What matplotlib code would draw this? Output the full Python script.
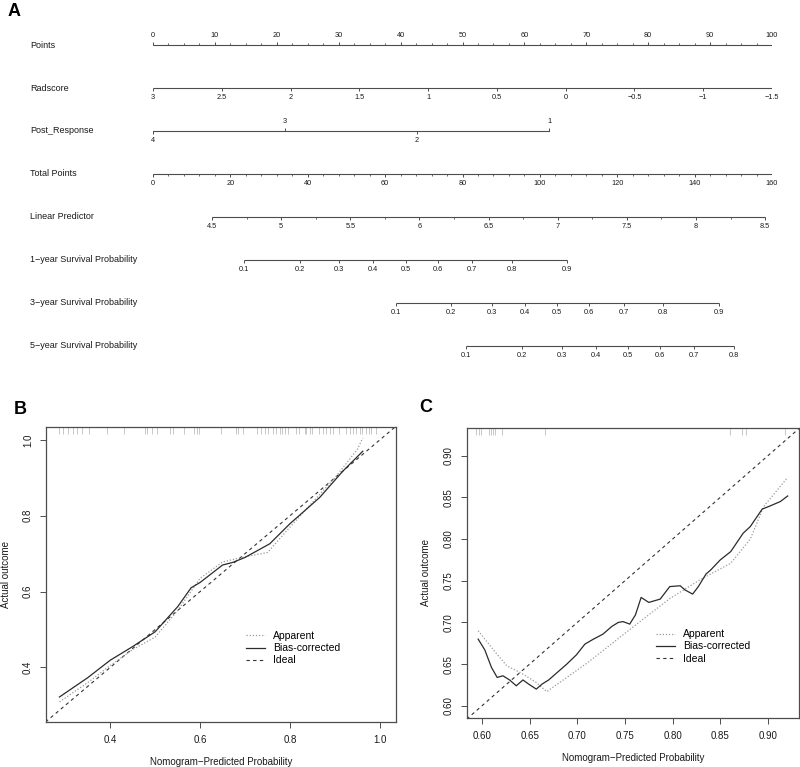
import matplotlib
matplotlib.use('Agg')
import matplotlib.pyplot as plt
import matplotlib.transforms as mtransforms
import numpy as np

plt.rcParams['font.family'] = ['Liberation Sans', 'DejaVu Sans']
MINUS = '\u2212'

# --- nomogram scales (values and where they sit on the 0-100 points axis) ---
points_major = [0, 10, 20, 30, 40, 50, 60, 70, 80, 90, 100]
points_minor_step = 2.5

radscore_vals = [3, 2.5, 2, 1.5, 1, 0.5, 0, -0.5, -1, -1.5]
radscore_points = [(3 - r) / 4.5 * 100 for r in radscore_vals]

post_resp_labels = ['4', '3', '2', '1']
post_resp_points = [0, 21.3, 42.6, 64.0]
post_resp_up = [False, True, False, True]

total_major = [0, 20, 40, 60, 80, 100, 120, 140, 160]
total_minor_step = 4

lp_vals = [4.5, 5, 5.5, 6, 6.5, 7, 7.5, 8, 8.5]
lp_total_at_4_5 = 15.25
lp_total_per_unit = 35.74

surv_1y = [0.1, 0.2, 0.3, 0.4, 0.5, 0.6, 0.7, 0.8, 0.9]
surv_1y_total = [23.5, 38.0, 48.1, 56.9, 65.4, 73.6, 82.4, 92.8, 107.0]
surv_3y = [0.1, 0.2, 0.3, 0.4, 0.5, 0.6, 0.7, 0.8, 0.9]
surv_3y_total = [62.7, 77.0, 87.5, 96.1, 104.4, 112.7, 121.7, 131.8, 146.3]
surv_5y = [0.1, 0.2, 0.3, 0.4, 0.5, 0.6, 0.7, 0.8]
surv_5y_total = [80.9, 95.4, 105.7, 114.5, 122.8, 131.0, 139.8, 150.1]

row_names = ['Points', 'Radscore', 'Post_Response', 'Total Points', 'Linear Predictor',
             '1' + MINUS + 'year Survival Probability', '3' + MINUS + 'year Survival Probability',
             '5' + MINUS + 'year Survival Probability']

# --- calibration curve B ---
b_bias_x = [0.287, 0.35, 0.40, 0.45, 0.50, 0.55, 0.58, 0.60, 0.65, 0.673, 0.70, 0.755, 0.80, 0.866, 0.918, 0.962]
b_bias_y = [0.322, 0.373, 0.419, 0.455, 0.494, 0.56, 0.61, 0.624, 0.67, 0.677, 0.69, 0.726, 0.779, 0.848, 0.918, 0.970]
b_app_x = [0.287, 0.35, 0.40, 0.45, 0.50, 0.55, 0.60, 0.65, 0.70, 0.75, 0.80, 0.85, 0.90, 0.95, 0.962]
b_app_y = [0.309, 0.36, 0.405, 0.447, 0.48, 0.55, 0.635, 0.678, 0.692, 0.703, 0.77, 0.835, 0.90, 0.975, 1.005]
b_rug = [0.2866, 0.294, 0.305, 0.318, 0.327, 0.337, 0.353, 0.392, 0.430, 0.478, 0.482, 0.494,
         0.504, 0.533, 0.540, 0.564, 0.586, 0.593, 0.598, 0.646, 0.679, 0.684, 0.696, 0.727,
         0.736, 0.744, 0.752, 0.762, 0.770, 0.777, 0.783, 0.789, 0.796, 0.813, 0.820, 0.833,
         0.836, 0.845, 0.8496, 0.864, 0.873, 0.881, 0.888, 0.896, 0.910, 0.925, 0.933, 0.941,
         0.948, 0.955, 0.961, 0.970, 0.976, 0.981, 0.992]

# --- calibration curve C ---
c_bias_x = [0.596, 0.603, 0.610, 0.616, 0.622, 0.629, 0.636, 0.643, 0.649, 0.657, 0.663, 0.670,
            0.678, 0.689, 0.699, 0.708, 0.717, 0.727, 0.736, 0.743, 0.748, 0.755, 0.761, 0.767,
            0.775, 0.787, 0.797, 0.808, 0.813, 0.821, 0.827, 0.835, 0.840, 0.850, 0.861, 0.874,
            0.8815, 0.894, 0.9007, 0.913, 0.9207]
c_bias_y = [0.680, 0.667, 0.646, 0.634, 0.636, 0.631, 0.624, 0.631, 0.626, 0.620, 0.626, 0.631,
            0.639, 0.650, 0.661, 0.674, 0.680, 0.686, 0.695, 0.700, 0.701, 0.698, 0.709, 0.730,
            0.724, 0.728, 0.743, 0.744, 0.739, 0.734, 0.743, 0.758, 0.763, 0.775, 0.785, 0.807,
            0.815, 0.836, 0.839, 0.845, 0.8517]
c_app_x = [0.596, 0.615, 0.626, 0.640, 0.657, 0.668, 0.710, 0.759, 0.7975, 0.830, 0.861, 0.8815, 0.8955, 0.920]
c_app_y = [0.690, 0.663, 0.648, 0.640, 0.628, 0.617, 0.651, 0.695, 0.729, 0.752, 0.771, 0.800, 0.839, 0.873]
c_rug = [0.5937, 0.5965, 0.5993, 0.6077, 0.6098, 0.612, 0.614, 0.6207, 0.6662,
         0.8605, 0.8728, 0.8773, 0.9183]

W, H = 800, 767
fig = plt.figure(figsize=(W / 100, H / 100), dpi=100)


def fx(px):
    return px / W


def fy(py):
    return 1 - py / H


LINE = '#4d4d4d'
TXT = '#1a1a1a'

# ================= A: nomogram =================
axA = fig.add_axes([fx(153), fy(360), fx(772) - fx(153), (360 - 30) / H])
axA.set_xlim(0, 100)
axA.set_ylim(7.326, -0.349)
axA.axis('off')
row_tr = mtransforms.blended_transform_factory(fig.transFigure, axA.transData)

TICK = 0.075
TICK_MINOR = 0.05
LAB_OFF = 0.23
FS_TICK = 5.3


def draw_scale(row, pos, labels, up, minor=None):
    axA.plot([min(pos), max(pos)], [row, row], color=LINE, lw=0.8, solid_capstyle='butt')
    sgn = -1 if up else 1
    if minor is not None:
        axA.vlines(minor, row, row + sgn * TICK_MINOR, color=LINE, lw=0.6)
    axA.vlines(pos, row, row + sgn * TICK, color=LINE, lw=0.7)
    for p, lab in zip(pos, labels):
        axA.text(p, row + sgn * LAB_OFF, lab, ha='center', va='center', fontsize=FS_TICK, color=TXT)


def fmt(v):
    s = ('%g' % v)
    return s.replace('-', MINUS)


for i, name in enumerate(row_names):
    axA.text(fx(30), i, name, transform=row_tr, ha='left', va='center', fontsize=6.5, color=TXT)

# Points
draw_scale(0, points_major, [str(p) for p in points_major], True,
           minor=np.arange(0, 100.01, points_minor_step))
# Radscore
draw_scale(1, radscore_points, [fmt(r) for r in radscore_vals], False)
# Post_Response
axA.plot([min(post_resp_points), max(post_resp_points)], [2, 2], color=LINE, lw=0.8)
for p, lab, up in zip(post_resp_points, post_resp_labels, post_resp_up):
    sgn = -1 if up else 1
    axA.vlines(p, 2, 2 + sgn * TICK, color=LINE, lw=0.7)
    axA.text(p, 2 + sgn * LAB_OFF, lab, ha='center', va='center', fontsize=FS_TICK, color=TXT)
# Total Points (160 total points over the 100 points width)
tp_scale = 100 / 160
draw_scale(3, [t * tp_scale for t in total_major], [str(t) for t in total_major], False,
           minor=np.arange(0, 160.01, total_minor_step) * tp_scale)
# Linear predictor
lp_pos = [(lp_total_at_4_5 + (v - 4.5) * lp_total_per_unit) * tp_scale for v in lp_vals]
lp_minor = [(lp_total_at_4_5 + (v - 4.5) * lp_total_per_unit) * tp_scale for v in np.arange(4.5, 8.51, 0.25)]
draw_scale(4, lp_pos, [fmt(v) for v in lp_vals], False, minor=lp_minor)
# Survival probabilities
draw_scale(5, [t * tp_scale for t in surv_1y_total], [fmt(v) for v in surv_1y], False)
draw_scale(6, [t * tp_scale for t in surv_3y_total], [fmt(v) for v in surv_3y], False)
draw_scale(7, [t * tp_scale for t in surv_5y_total], [fmt(v) for v in surv_5y], False)

fig.text(fx(8), fy(11), 'A', fontsize=13, fontweight='bold', ha='left', va='center')


# ================= calibration panels =================
def calib(ax, bx, by, apx, apy, rug, xlim, ylim, xticks, yticks, tickfmt, leg_xy):
    ax.set_xlim(*xlim)
    ax.set_ylim(*ylim)
    lo = min(xlim[0], ylim[0])
    hi = max(xlim[1], ylim[1])
    ax.plot([lo, hi], [lo, hi], color='#333333', lw=0.8, ls=(0, (3, 3)), label='Ideal', zorder=2)
    ax.plot(apx, apy, color='#9a9a9a', lw=0.9, ls=(0, (1, 1.5)), label='Apparent', zorder=3)
    ax.plot(bx, by, color='#2b2b2b', lw=0.9, label='Bias-corrected', zorder=4)
    ax.vlines(rug, 1, 0.975, transform=ax.get_xaxis_transform(), color='#b0b0b0', lw=0.5)
    ax.set_xticks(xticks)
    ax.set_yticks(yticks)
    ax.set_xticklabels([tickfmt % v for v in xticks])
    ax.set_yticklabels([tickfmt % v for v in yticks], rotation=90, va='center')
    ax.tick_params(direction='out', length=4.3, width=0.7, colors=LINE, labelcolor=TXT,
                   labelsize=7, pad=5)
    for s in ax.spines.values():
        s.set_color(LINE)
        s.set_linewidth(0.9)
    ax.set_xlabel('Nomogram' + MINUS + 'Predicted Probability', fontsize=7, color=TXT, labelpad=8.5)
    ax.set_ylabel('Actual outcome', fontsize=7, color=TXT, labelpad=9)
    h, l = ax.get_legend_handles_labels()
    order = [l.index('Apparent'), l.index('Bias-corrected'), l.index('Ideal')]
    ax.legend([h[k] for k in order], [l[k] for k in order], loc='upper left', bbox_to_anchor=leg_xy,
              frameon=False, fontsize=7.5, handlelength=1.85, handletextpad=0.75,
              labelspacing=0.2, borderpad=0, borderaxespad=0)


axB = fig.add_axes([fx(46), fy(722), fx(396) - fx(46), (722 - 427) / H])
calib(axB, b_bias_x, b_bias_y, b_app_x, b_app_y, b_rug, (0.257, 1.036), (0.256, 1.034),
      [0.4, 0.6, 0.8, 1.0], [0.4, 0.6, 0.8, 1.0], '%.1f', (0.571, 0.308))
fig.text(fx(14), fy(410), 'B', fontsize=13, fontweight='bold', ha='left', va='center')

axC = fig.add_axes([fx(466.7), fy(718.3), fx(799) - fx(466.7), (718.3 - 427.7) / H])
calib(axC, c_bias_x, c_bias_y, c_app_x, c_app_y, c_rug, (0.584, 0.9326), (0.585, 0.9336),
      [0.60, 0.65, 0.70, 0.75, 0.80, 0.85, 0.90], [0.60, 0.65, 0.70, 0.75, 0.80, 0.85, 0.90],
      '%.2f', (0.570, 0.306))
fig.text(fx(419), fy(407), 'C', fontsize=13, fontweight='bold', ha='left', va='center')

fig.savefig('out.png', dpi=100, facecolor='white')
